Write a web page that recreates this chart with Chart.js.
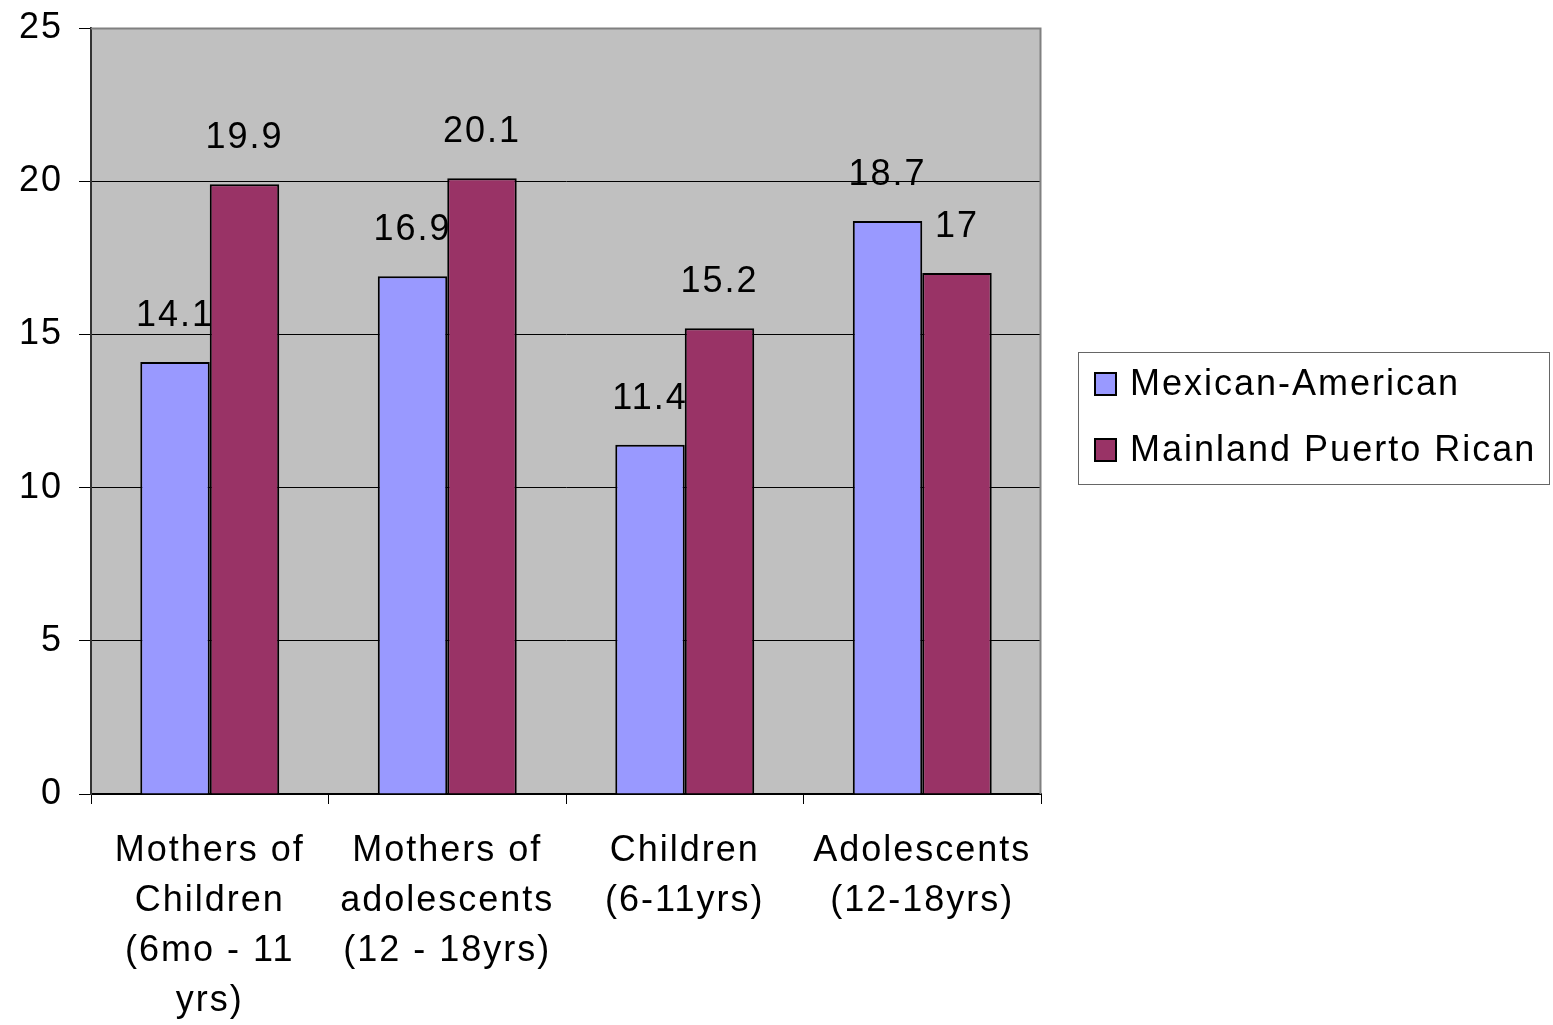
<!DOCTYPE html>
<html>
<head>
<meta charset="utf-8">
<script src="https://cdn.jsdelivr.net/npm/chart.js@4/dist/chart.umd.min.js"></script>
<style>
  html, body { margin: 0; padding: 0; background: #ffffff; }
  #wrap { width: 1553px; height: 1025px; }
</style>
</head>
<body>
<div id="wrap"><canvas id="chart"></canvas></div>
<script>
const categories   = [
  ['Mothers of', 'Children', '(6mo - 11', 'yrs)'],
  ['Mothers of', 'adolescents', '(12 - 18yrs)'],
  ['Children', '(6-11yrs)'],
  ['Adolescents', '(12-18yrs)']
];
const seriesNames  = ['Mexican-American', 'Mainland Puerto Rican'];
const mexican      = [14.1, 16.9, 11.4, 18.7];
const puertoRican  = [19.9, 20.1, 15.2, 17];
const seriesColors = ['#9999FF', '#993366'];
const yTicks       = [0, 5, 10, 15, 20, 25];

const FONT = 'Liberation Sans, Arial, sans-serif';

// wider letter spacing like the original
const spacing = {
  id: 'spacing',
  beforeUpdate(chart) { chart.ctx.letterSpacing = '2px'; },
  beforeDraw(chart)   { chart.ctx.letterSpacing = '2px'; }
};

// grey plot background + frame
const plotBack = {
  id: 'plotBack',
  beforeDraw(chart) {
    const { ctx, chartArea: a } = chart;
    ctx.save();
    ctx.fillStyle = '#C0C0C0';
    ctx.fillRect(a.left, a.top, a.right - a.left, a.bottom - a.top);
    ctx.restore();
  },
  afterDraw(chart) {
    const { ctx, chartArea: a } = chart;
    ctx.save();
    ctx.strokeStyle = '#808080';
    ctx.lineWidth = 2;
    ctx.beginPath();
    ctx.moveTo(a.left, a.top + 0.5);
    ctx.lineTo(a.right - 0.5, a.top + 0.5);
    ctx.lineTo(a.right - 0.5, a.bottom);
    ctx.stroke();
    ctx.restore();
  }
};

// values above the bars
const barValues = {
  id: 'barValues',
  afterDatasetsDraw(chart) {
    const ctx = chart.ctx;
    ctx.save();
    ctx.font = '36px ' + FONT;
    ctx.fillStyle = '#000';
    ctx.textAlign = 'center';
    ctx.textBaseline = 'middle';
    chart.data.datasets.forEach((ds, i) => {
      chart.getDatasetMeta(i).data.forEach((bar, j) => {
        ctx.fillText(String(ds.data[j]), bar.x, bar.y - 46);
      });
    });
    ctx.restore();
  }
};

// boxed legend on the right
const boxLegend = {
  id: 'boxLegend',
  afterDraw(chart) {
    const ctx = chart.ctx;
    const x0 = 1078, y0 = 352, w = 471, h = 132;
    ctx.save();
    ctx.fillStyle = '#fff';
    ctx.fillRect(x0, y0, w, h);
    ctx.strokeStyle = '#666';
    ctx.lineWidth = 1;
    ctx.strokeRect(x0 + 0.5, y0 + 0.5, w, h);
    ctx.font = '36px ' + FONT;
    ctx.textBaseline = 'middle';
    chart.data.datasets.forEach((ds, i) => {
      const cy = y0 + 32 + i * 66;
      ctx.fillStyle = ds.backgroundColor;
      ctx.fillRect(x0 + 17, cy - 11, 21, 22);
      ctx.strokeStyle = '#000';
      ctx.lineWidth = 2;
      ctx.strokeRect(x0 + 17, cy - 11, 21, 22);
      ctx.fillStyle = '#000';
      ctx.fillText(ds.label, x0 + 52, cy + 1);
    });
    ctx.restore();
  }
};

new Chart(document.getElementById('chart'), {
  type: 'bar',
  data: {
    labels: categories,
    datasets: [
      { label: seriesNames[0], data: mexican, backgroundColor: seriesColors[0], borderColor: '#000', borderWidth: 2, borderSkipped: 'bottom' },
      { label: seriesNames[1], data: puertoRican, backgroundColor: seriesColors[1], borderColor: '#000', borderWidth: 2, borderSkipped: 'bottom' }
    ]
  },
  options: {
    responsive: true,
    maintainAspectRatio: false,
    animation: false,
    layout: { padding: { top: 28, right: 512, left: 0, bottom: 0 } },
    datasets: { bar: { categoryPercentage: 0.585, barPercentage: 1 } },
    plugins: { legend: { display: false }, tooltip: { enabled: false } },
    scales: {
      x: {
        grid: { display: true, drawOnChartArea: false, color: '#000', tickLength: 10, offset: true },
        border: { color: '#000', width: 2 },
        ticks: { color: '#000', font: { family: FONT, size: 36, lineHeight: 1.39 }, padding: 22, maxRotation: 0, autoSkip: false },
        afterFit(s) { s.height = 231; s.paddingLeft = 0; s.paddingRight = 0; }
      },
      y: {
        min: 0, max: 25,
        afterBuildTicks(s) { s.ticks = yTicks.map(v => ({ value: v })); },
        grid: { color: '#000', lineWidth: 1, tickLength: 12 },
        border: { color: '#333', width: 2 },
        ticks: { color: '#000', font: { family: FONT, size: 36 }, padding: 16 },
        afterFit(s) { s.width = 91; s.paddingTop = 0; s.paddingBottom = 0; }
      }
    }
  },
  plugins: [spacing, plotBack, barValues, boxLegend]
});
</script>
</body>
</html>
